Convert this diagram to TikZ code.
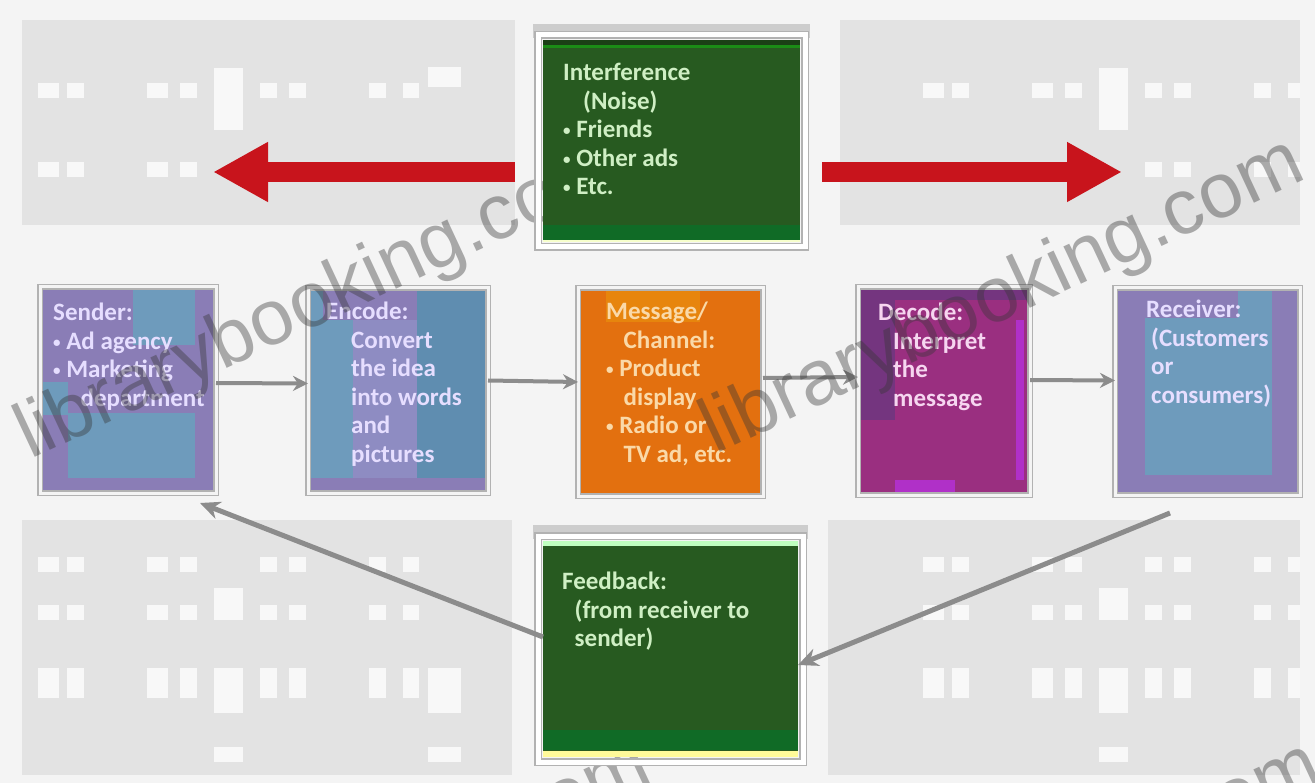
\documentclass[tikz,border=0pt]{standalone}
\usepackage{fontspec}
\setmainfont{Carlito}
\newfontfamily\wmfont{Liberation Sans}
\usetikzlibrary{arrows.meta}
\definecolor{bgwhite}{HTML}{F4F4F4}
\definecolor{bggray}{HTML}{E3E3E3}
\definecolor{dashc}{HTML}{F8F8F8}
\definecolor{gdark}{HTML}{275A20}
\definecolor{gband}{HTML}{106B26}
\definecolor{gtext}{HTML}{CFEFC4}
\definecolor{purp}{HTML}{8A7DB6}
\definecolor{purplt}{HTML}{8E8CC2}
\definecolor{steel}{HTML}{6E9BBC}
\definecolor{steeldk}{HTML}{5F8DB0}
\definecolor{lav}{HTML}{E6DEFF}
\definecolor{orng}{HTML}{E3700F}
\definecolor{orngtext}{HTML}{FAD9A8}
\definecolor{mag}{HTML}{9A2F80}
\definecolor{magdk}{HTML}{74357F}
\definecolor{magtext}{HTML}{F6D6F0}
\definecolor{violetc}{HTML}{B030C8}
\definecolor{arrgray}{HTML}{8C8C8C}
\definecolor{redarr}{HTML}{C8141C}
\definecolor{wmc}{HTML}{363636}
\definecolor{framegray}{HTML}{B2B2B2}
\definecolor{shadowgray}{HTML}{CDCDCD}
\newcommand{\bul}{{\fontsize{15}{15}\selectfont\raisebox{0.12em}{•}}\ }
\begin{document}
\begin{tikzpicture}[x=1pt,y=-1pt,
  txt/.style={anchor=north west, align=left, inner sep=0pt,
    font=\fontsize{25}{28.5}\selectfont\bfseries},
  boxfill/.style={rectangle, inner sep=0pt, outer sep=0pt, draw=none},
  rowframe/.style={draw=framegray, double=bgwhite, double distance=3pt, line width=1.2pt},
  gframe/.style={draw=framegray, double=white, double distance=5pt, line width=1.2pt},
  conn/.style={draw=arrgray, line width=4pt, -{Stealth[length=15pt,width=15pt]}},
  fbarrow/.style={draw=arrgray, line width=5pt, -{Stealth[length=20pt,width=18pt]}},
  redarrow/.style={draw=redarr, line width=20pt, -{Triangle[length=55pt,width=56pt]}},
  wmtext/.style={anchor=base west, rotate=25, inner sep=0pt, text=wmc, opacity=0.4,
    font=\wmfont\fontsize{78}{78}\selectfont}
]
\useasboundingbox (0,0) rectangle (1315,783);
% background
\fill[bgwhite] (0,0) rectangle (1315,783);
\fill[bggray] (22,20) rectangle (515,225);
\fill[bggray] (840,20) rectangle (1300,225);
\fill[bggray] (22,520) rectangle (512,775);
\fill[bggray] (828,520) rectangle (1300,775);
\begin{scope}
\clip (22,20) rectangle (515,225) (840,20) rectangle (1300,225)
      (22,520) rectangle (512,775) (828,520) rectangle (1300,775);
\foreach \dx in {0,885}{
  \foreach \ya/\yb in {83/98,162/177,557/572,605/620,668/698}{
    \foreach \xa/\xb in {38/59,67/84,147/168,180/197,260/277,289/306,369/386,403/419}{
      \fill[dashc] ({\xa+\dx},\ya) rectangle ({\xb+\dx},\yb);
    }
  }
  \fill[dashc] ({214+\dx},68) rectangle ({243+\dx},130);
  \fill[dashc] ({428+\dx},67) rectangle ({461+\dx},87);
  \fill[dashc] ({214+\dx},588) rectangle ({243+\dx},620);
  \fill[dashc] ({214+\dx},668) rectangle ({243+\dx},713);
  \fill[dashc] ({428+\dx},668) rectangle ({461+\dx},713);
  \fill[dashc] ({214+\dx},747) rectangle ({243+\dx},762);
  \fill[dashc] ({428+\dx},747) rectangle ({461+\dx},762);
}
\end{scope}

% row boxes
\node[boxfill, fill=purp, minimum width=176pt, minimum height=206pt] (sender) at (128,390) {};
\fill[steel] (133,288) rectangle (195,345);
\fill[steel] (68,413) rectangle (195,478);
\fill[steel] (40,382) rectangle (68,415);
\draw[rowframe] (sender.north west) rectangle (sender.south east);

\node[boxfill, fill=steel, minimum width=180pt, minimum height=205pt] (encode) at (398,390.5) {};
\fill[purp] (323,289) rectangle (417,320);
\fill[purplt] (353,320) rectangle (417,478);
\fill[steeldk] (417,289) rectangle (487,478);
\fill[purp] (308,478) rectangle (488,493);
\draw[rowframe] (encode.north west) rectangle (encode.south east);

\node[boxfill, fill=orng, minimum width=185pt, minimum height=208pt] (message) at (670.5,392) {};
\fill[orng!85!yellow] (606,290) rectangle (700,322);
\draw[rowframe] (message.north west) rectangle (message.south east);

\node[boxfill, fill=mag, minimum width=172pt, minimum height=208pt] (decode) at (944,391) {};
\fill[magdk] (858,287) rectangle (895,420);
\fill[magdk] (858,287) rectangle (1030,300);
\fill[violetc] (1016,320) rectangle (1024,480);
\fill[violetc] (895,480) rectangle (955,495);
\draw[rowframe] (decode.north west) rectangle (decode.south east);

\node[boxfill, fill=purp, minimum width=185pt, minimum height=207pt] (receiver) at (1207.5,391.5) {};
\fill[steel] (1145,318) rectangle (1272,475);
\fill[steel] (1238,288) rectangle (1272,318);
\draw[rowframe] (receiver.north west) rectangle (receiver.south east);

% row texts
\node[txt, text=lav] (sendertxt) at (53,303)
  {Sender:\\\bul Ad agency\\\bul Marketing\\\hspace*{1.1em}department};
\node[txt, text=lav] (encodetxt) at (326,302)
  {Encode:\\\hspace*{1em}Convert\\\hspace*{1em}the idea\\\hspace*{1em}into words\\\hspace*{1em}and\\\hspace*{1em}pictures};
\node[txt, text=orngtext] (messagetxt) at (606,302)
  {Message/\\\hspace*{0.7em}Channel:\\\bul Product\\\hspace*{0.7em}display\\\bul Radio or\\\hspace*{0.7em}TV ad, etc.};
\node[txt, text=magtext] (decodetxt) at (878,303)
  {Decode:\\\hspace*{0.6em}Interpret\\\hspace*{0.6em}the\\\hspace*{0.6em}message};
\node[txt, text=lav] (receivertxt) at (1146,300)
  {Receiver:\\\hspace*{0.2em}(Customers\\\hspace*{0.2em}or\\\hspace*{0.2em}consumers)};

% connectors between row boxes
\draw[conn] ([yshift=7pt]sender.east) -- ([yshift=7pt]encode.west);
\draw[conn] ([yshift=10pt]encode.east) -- ([yshift=10pt]message.west);
\draw[conn] ([yshift=14pt]message.east) -- ([yshift=14pt]decode.west);
\draw[conn] ([yshift=11pt]decode.east) -- ([yshift=11pt]receiver.west);

% watermark (under the green boxes, where it is not visible)
\begin{scope}
\clip (0,0) rectangle (1315,783);
\node[wmtext] (wm1) at (30,460) {librarybooking.com};
\node[wmtext] (wm2) at (715,455) {librarybooking.com};
\node[wmtext] (wm3) at (62,1059) {librarybooking.com};
\node[wmtext] (wm4) at (732,1059) {librarybooking.com};
\end{scope}

% green boxes
\node[boxfill, fill=gdark, minimum width=257pt, minimum height=202pt] (noise) at (671.5,141) {};
\fill[shadowgray] ([shift={(-10pt,16pt)}]noise.north west) rectangle ([shift={(10pt,2pt)}]noise.north east);
\fill[gdark!70!black] (543,40) rectangle (800,45);
\fill[green!30!gdark] (543,45) rectangle (800,48);
\fill[gband] (543,225) rectangle (800,240);
\fill[green!15!yellow!20!white] (543,240) rectangle (800,242);
\draw[gframe] ([shift={(-5pt,5pt)}]noise.north west) rectangle ([shift={(5pt,-5pt)}]noise.south east);
\node[txt, text=gtext] (noisetxt) at (563,63)
  {Interference\\\hspace*{0.8em}(Noise)\\\bul Friends\\\bul Other ads\\\bul Etc.};

\node[boxfill, fill=gdark, minimum width=255pt, minimum height=216pt] (feedback) at (670.5,649) {};
\fill[shadowgray] ([shift={(-10pt,16pt)}]feedback.north west) rectangle ([shift={(10pt,2pt)}]feedback.north east);
\fill[green!25!white] (543,541) rectangle (798,546);
\fill[gband] (543,730) rectangle (798,750);
\fill[yellow!40!white] (543,751) rectangle (798,757);
\draw[gframe] ([shift={(-5pt,5pt)}]feedback.north west) rectangle ([shift={(5pt,-5pt)}]feedback.south east);
\node[txt, text=gtext] (feedbacktxt) at (562,572)
  {Feedback:\\\hspace*{0.5em}(from receiver to\\\hspace*{0.5em}sender)};

% red noise arrows
\coordinate (lefttip) at (213,172);
\coordinate (righttip) at (1122,172);
\draw[redarrow, shorten <=28pt] (noise.west |- lefttip) -- (lefttip);
\draw[redarrow, shorten <=22pt] (noise.east |- righttip) -- (righttip);

% feedback arrows
\draw[fbarrow] ([yshift=12pt]feedback.west) -- ([xshift=-16pt,yshift=-10pt]sender.south east);
\draw[fbarrow] ([xshift=55pt,yshift=-18pt]receiver.south west) -- ([yshift=-16pt]feedback.east);
\end{tikzpicture}
\end{document}
